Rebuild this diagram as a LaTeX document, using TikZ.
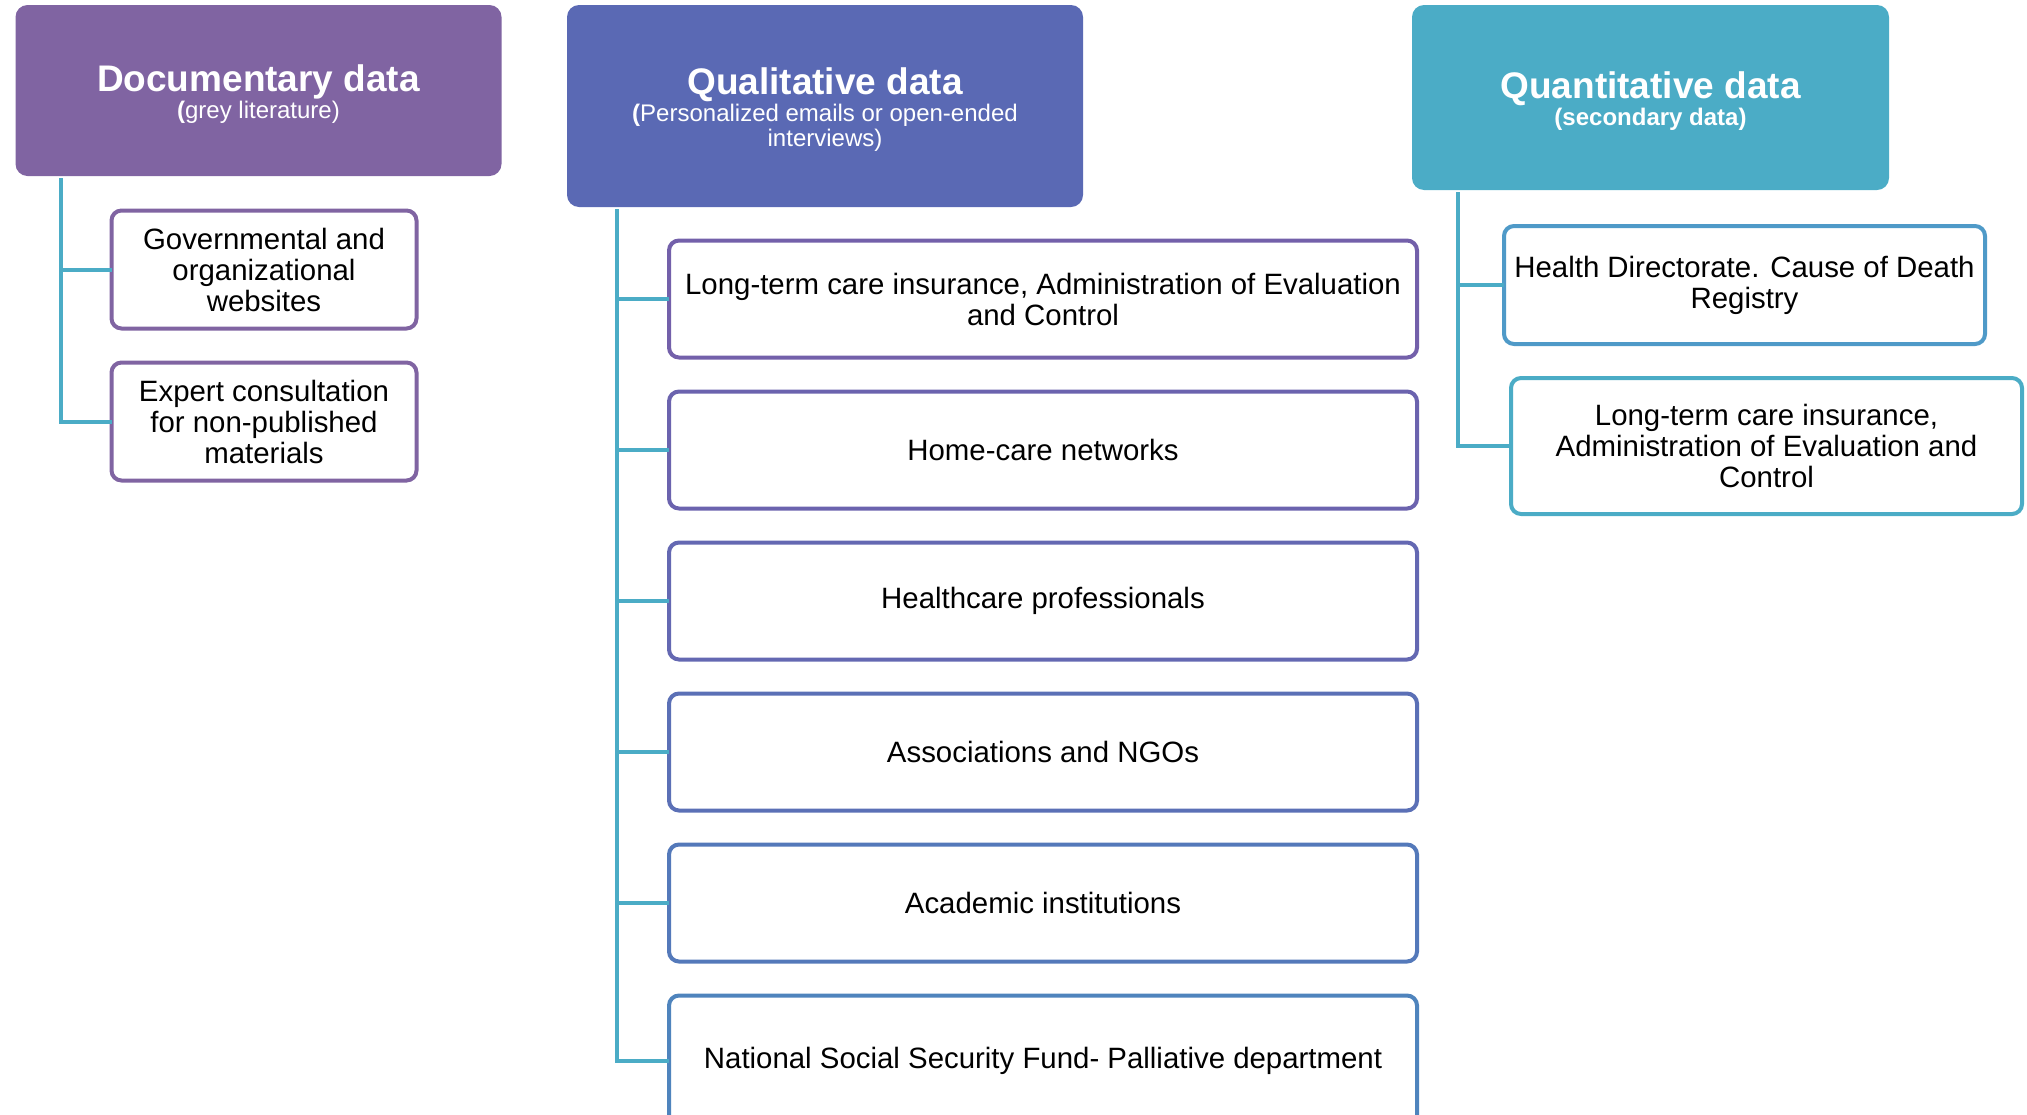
\documentclass[tikz,border=0pt]{standalone}
\usepackage{fontspec}
\setmainfont{Liberation Sans}
\usetikzlibrary{positioning}

\definecolor{docpurple}{HTML}{8064A2}
\definecolor{qualblue}{HTML}{5A69B4}
\definecolor{quantteal}{HTML}{4BACC6}
\definecolor{qualA}{HTML}{7360AA}
\definecolor{qualB}{HTML}{6B63AE}
\definecolor{qualC}{HTML}{6468B2}
\definecolor{qualD}{HTML}{5B70B6}
\definecolor{qualE}{HTML}{5479BA}
\definecolor{qualF}{HTML}{4F84BD}
\definecolor{quantA}{HTML}{4F9AC8}
\newcommand{\hdtitle}{\rule{0pt}{17pt}\fontsize{18.5}{19}\selectfont\bfseries}
\newcommand{\hdsub}{\fontsize{12}{12.5}\selectfont}

\begin{document}
\begin{tikzpicture}[
    x=0.5pt, y=-0.5pt,
    every node/.style={align=center, font=\fontsize{14.7}{15.5}\selectfont},
    head/.style={rectangle, rounded corners=6pt, text=white, inner sep=0pt},
    item/.style={draw, line width=2pt, rectangle, rounded corners=5pt, fill=white, inner sep=0pt, outer sep=0pt},
    link/.style={draw=quantteal, line width=2pt}
]
\useasboundingbox (0,0) rectangle (2027,1114);

% Column 1: documentary data
\node[head, fill=docpurple, minimum width=243pt, minimum height=85.5pt] (doc) at (258.5,90.5)
    {\hdtitle Documentary data\\[-2pt]\hdsub\textbf{(}grey literature)};
\node[item, draw=docpurple, minimum width=152.5pt, minimum height=59pt] (gov) at (264,269.5)
    {Governmental and\\organizational\\websites};
\node[item, draw=docpurple, minimum width=152.5pt, minimum height=59pt, below=17pt of gov] (expert)
    {Expert consultation\\for non-published\\materials};

% Column 2: qualitative data
\node[head, fill=qualblue, minimum width=258pt, minimum height=101pt] (qual) at (825,106)
    {\hdtitle Qualitative data\\[-2pt]\hdsub\textbf{(}Personalized emails or open-ended\\[-3pt]\hdsub interviews)};
\node[item, draw=qualA, minimum width=374pt, minimum height=58.5pt] (ltc) at (1043,299)
    {Long-term care insurance, Administration of Evaluation\\and Control};
\node[item, draw=qualB, minimum width=374pt, minimum height=58.5pt, below=17pt of ltc] (home)
    {Home-care networks};
\node[item, draw=qualC, minimum width=374pt, minimum height=58.5pt, below=17pt of home] (prof)
    {Healthcare professionals};
\node[item, draw=qualD, minimum width=374pt, minimum height=58.5pt, below=17pt of prof] (ngo)
    {Associations and NGOs};
\node[item, draw=qualE, minimum width=374pt, minimum height=58.5pt, below=17pt of ngo] (acad)
    {Academic institutions};
\node[item, draw=qualF, minimum width=374pt, minimum height=65pt, below=17pt of acad] (nssf)
    {National Social Security Fund- Palliative department};

% Column 3: quantitative data
\node[head, fill=quantteal, minimum width=238.5pt, minimum height=92.5pt] (quant) at (1650.5,97.5)
    {\hdtitle Quantitative data\\[-2pt]\hdsub\bfseries(secondary data)};
\node[item, draw=quantA, minimum width=240.5pt, minimum height=59pt] (death) at (1744.5,285)
    {Health Directorate. Cause of Death\\Registry};
\node[item, draw=quantteal, minimum width=255.5pt, minimum height=68pt] (ltcq) at (1766.5,446)
    {Long-term care insurance,\\Administration of Evaluation and\\Control};

% Tree links
\draw[link] ([xshift=23pt, yshift=-1pt]doc.south west) |- (gov.west);
\draw[link] ([xshift=23pt, yshift=-1pt]doc.south west) |- (expert.west);
\foreach \leaf in {ltc, home, prof, ngo, acad, nssf}
    \draw[link] ([xshift=25pt, yshift=-1pt]qual.south west) |- (\leaf.west);
\draw[link] ([xshift=23pt, yshift=-1pt]quant.south west) |- (death.west);
\draw[link] ([xshift=23pt, yshift=-1pt]quant.south west) |- (ltcq.west);

\end{tikzpicture}
\end{document}
